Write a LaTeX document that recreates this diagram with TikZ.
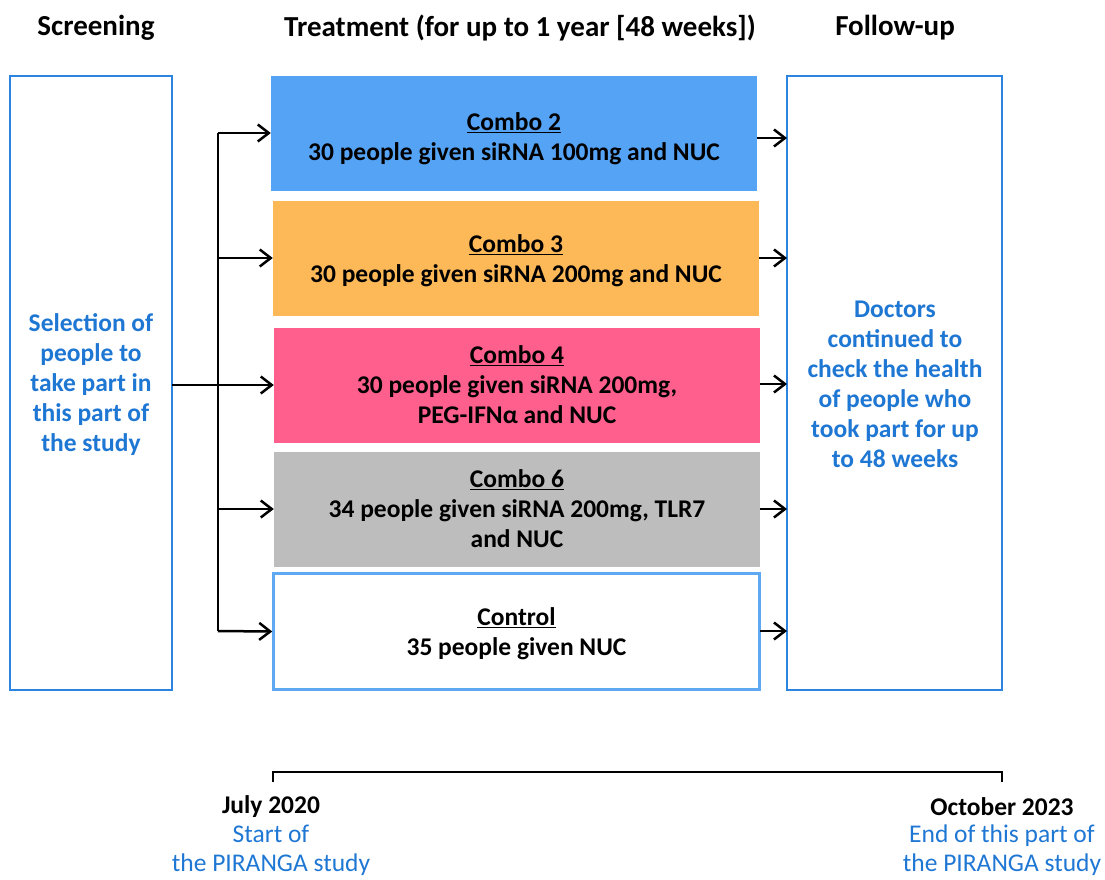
\documentclass[tikz,border=0pt]{standalone}
\usepackage{fontspec}
\setmainfont{Carlito}
\usetikzlibrary{arrows.meta}
\definecolor{txtblue}{HTML}{1F77D4}
\definecolor{boxblue}{HTML}{2A84E0}
\definecolor{ctrlblue}{HTML}{5FA8F2}
\definecolor{c2}{HTML}{55A3F5}
\definecolor{c3}{HTML}{FDB957}
\definecolor{c4}{HTML}{FF5F8D}
\definecolor{c6}{HTML}{BDBDBD}
\begin{document}
\begin{tikzpicture}[x=1pt,y=-1pt,
  every node/.style={font=\fontsize{25.5}{30}\selectfont\bfseries, inner sep=0pt, align=center},
  head/.style={font=\fontsize{29}{30}\selectfont\bfseries},
  arm/.style={draw=none, minimum width=486pt, minimum height=115pt},
  side/.style={draw=boxblue, line width=1.6pt, fill=white},
  conn/.style={line width=2.5pt, -{Straight Barb[length=11pt,width=17pt,line width=2.5pt]}},
  btext/.style={text=txtblue},
  ntext/.style={font=\fontsize{25.5}{29}\selectfont}
]
\useasboundingbox (0,0) rectangle (1105,879);
% headers
\node[head] (hs) at (96,28) {Screening};
\node[head] (ht) at (520,28) {Treatment (for up to 1 year [48 weeks])};
\node[head] (hf) at (895,28) {Follow-up};
% side boxes
\draw[side] (10,76) rectangle (172,690);
\coordinate (scrR) at (172,385);
\node[btext] (scr) at (91,385) {Selection of\\people to\\take part in\\this part of\\the study};
\draw[side] (787,76) rectangle (1002,690);
\node[btext] (fol) at (895,384) {Doctors\\continued to\\check the health\\of people who\\took part for up\\to 48 weeks};
% treatment boxes
\node[arm, fill=c2] (b2) at (514,133) {};
\node (t2) at ([yshift=-6pt]b2.center) {\underline{Combo 2}\\30 people given siRNA 100mg and NUC};
\node[arm, fill=c3] (b3) at (516,258) {};
\node (t3) at ([yshift=-3pt]b3.center) {\underline{Combo 3}\\30 people given siRNA 200mg and NUC};
\node[arm, fill=c4] (b4) at (517,385) {};
\node (t4) at (b4.center) {\underline{Combo 4}\\30 people given siRNA 200mg,\\PEG-IFNα and NUC};
\node[arm, fill=c6] (b6) at (517,509) {};
\node (t6) at (b6.center) {\underline{Combo 6}\\34 people given siRNA 200mg, TLR7\\and NUC};
\node[arm, draw=ctrlblue, line width=2.5pt, fill=white, minimum width=486pt, minimum height=116pt] (bc) at (516.5,631.5) {};
\node (tc) at ([yshift=-2pt]bc.center) {\underline{Control}\\35 people given NUC};
% left connectors
\coordinate (trunkT) at (218,133);
\coordinate (trunkB) at (218,631);
\draw[line width=2.5pt] (trunkT) -- (trunkB);
\draw[conn] (scrR) -- (b4.west);
\draw[conn] (trunkT) -- (b2.west);
\draw[conn] (218,258) -- (b3.west);
\draw[conn] (218,509) -- (b6.west);
\draw[conn] (trunkB) -- (bc.west);
% right connectors
\coordinate (f2) at (787,138);
\coordinate (f3) at (787,258);
\coordinate (f4) at (787,384);
\coordinate (f6) at (787,509);
\coordinate (fc) at (787,631);
\draw[conn] (757,138) -- (f2);
\draw[conn] (759,258) -- (f3);
\draw[conn] (760,384) -- (f4);
\draw[conn] (760,509) -- (f6);
\draw[conn] (760,631) -- (fc);
% timeline
\coordinate (tl) at (273,772);
\coordinate (tr) at (1002,772);
\draw[line width=2.5pt] (273,782) -- (tl) -- (tr) -- (1002,782);
\node (d1) at (271,807) {July 2020};
\node[btext, ntext] (s1) at (271,850) {Start of\\the PIRANGA study};
\node (d2) at (1002,807) {October 2023};
\node[btext, ntext] (s2) at (1002,850) {End of this part of\\the PIRANGA study};
\end{tikzpicture}
\end{document}
